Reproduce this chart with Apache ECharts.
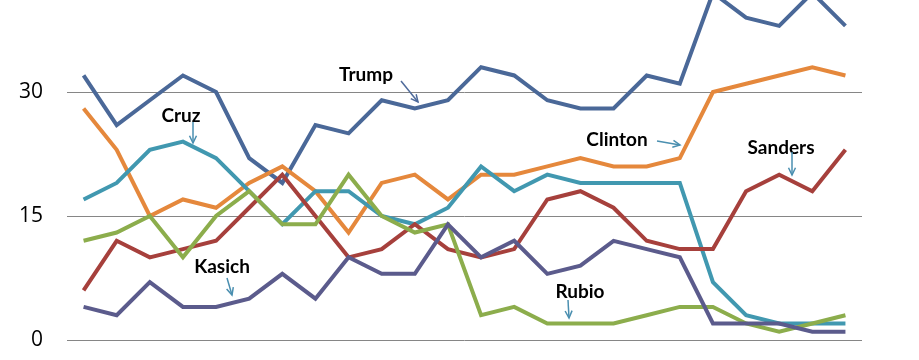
<!DOCTYPE html>
<html>
<head>
<meta charset="utf-8">
<script src="https://cdn.jsdelivr.net/npm/echarts@6/dist/echarts.min.js"></script>
<style>
html,body{margin:0;padding:0;background:#fff;}
#chart{width:919px;height:360px;}
</style>
</head>
<body>
<div id="chart"></div>
<script>
const categories = ['1','2','3','4','5','6','7','8','9','10','11','12','13','14','15','16','17','18','19','20','21','22','23','24'];
const trump   = [32,26,29,32,30,22,19,26,25,29,28,29,33,32,29,28,28,32,31,42,39,38,42,38];
const clinton = [28,23,15,17,16,19,21,18,13,19,20,17,20,20,21,22,21,21,22,30,31,32,33,32];
const cruz    = [17,19,23,24,22,18,14,18,18,15,14,16,21,18,20,19,19,19,19,7,3,2,2,2];
const sanders = [6,12,10,11,12,16,20,15,10,11,14,11,10,11,17,18,16,12,11,11,18,20,18,23];
const rubio   = [12,13,15,10,15,18,14,14,20,15,13,14,3,4,2,2,2,3,4,4,2,1,2,3];
const kasich  = [4,3,7,4,4,5,8,5,10,8,8,14,10,12,8,9,12,11,10,2,2,2,1,1];
const yTicks  = [0,15,30,45];

const chart = echarts.init(document.getElementById('chart'), null, {renderer:'canvas'});

function line(name, data, color){
  return {name, type:'line', data, symbol:'none', smooth:false,
    lineStyle:{width:4, color, join:'miter'}, itemStyle:{color}, z:2};
}

function arrow(x1,y1,x2,y2,color){
  const a = Math.atan2(y2-y1, x2-x1);
  const L = 8, w = 0.45;
  return [
    {type:'line', shape:{x1,y1,x2,y2}, style:{stroke:color, lineWidth:1.5}, z:10},
    {type:'polyline', shape:{points:[
      [x2 - L*Math.cos(a-w), y2 - L*Math.sin(a-w)],
      [x2, y2],
      [x2 - L*Math.cos(a+w), y2 - L*Math.sin(a+w)]
    ]}, style:{stroke:color, lineWidth:1.5, fill:null}, z:10}
  ];
}
function label(text,x,y){
  return {type:'text', x, y, style:{text, fill:'#000', font:'bold 19px Lato, "Open Sans", sans-serif', textAlign:'center', textVerticalAlign:'middle'}, z:10};
}
const arrowColor = '#4a8fb0';
const graphics = [
  label('Trump',366,75), ...arrow(401,81,418,102,'#4f6b9b'),
  label('Cruz',181,116), ...arrow(193,122,193,143,arrowColor),
  label('Clinton',617,140), ...arrow(657,141,680,145,arrowColor),
  label('Sanders',781,148), ...arrow(792,152,792,175,arrowColor),
  label('Kasich',222,267), ...arrow(227,278,232,295,arrowColor),
  label('Rubio',580,292), ...arrow(568,300,569,318,arrowColor)
];

chart.setOption({
  animation:false,
  backgroundColor:'#ffffff',
  grid:{left:67, right:57, top:-32, bottom:20, containLabel:false, outerBoundsMode:'none'},
  xAxis:{type:'category', data:categories, boundaryGap:true,
    axisLine:{show:false}, axisTick:{show:false}, axisLabel:{show:false}, splitLine:{show:false}},
  yAxis:{type:'value', min:yTicks[0], max:yTicks[yTicks.length-1], interval:15,
    axisLine:{show:false}, axisTick:{show:false},
    axisLabel:{color:'#000', fontSize:21, fontFamily:'"Open Sans", sans-serif', margin:24},
    splitLine:{show:true, lineStyle:{color:'#868686', width:1}}},
  series:[
    line('Trump', trump, '#4a6898'),
    line('Clinton', clinton, '#e5883c'),
    line('Cruz', cruz, '#4198b0'),
    line('Sanders', sanders, '#a6403c'),
    line('Rubio', rubio, '#8cad4c'),
    line('Kasich', kasich, '#5b5b8c')
  ],
  graphic: graphics
});
</script>
</body>
</html>
